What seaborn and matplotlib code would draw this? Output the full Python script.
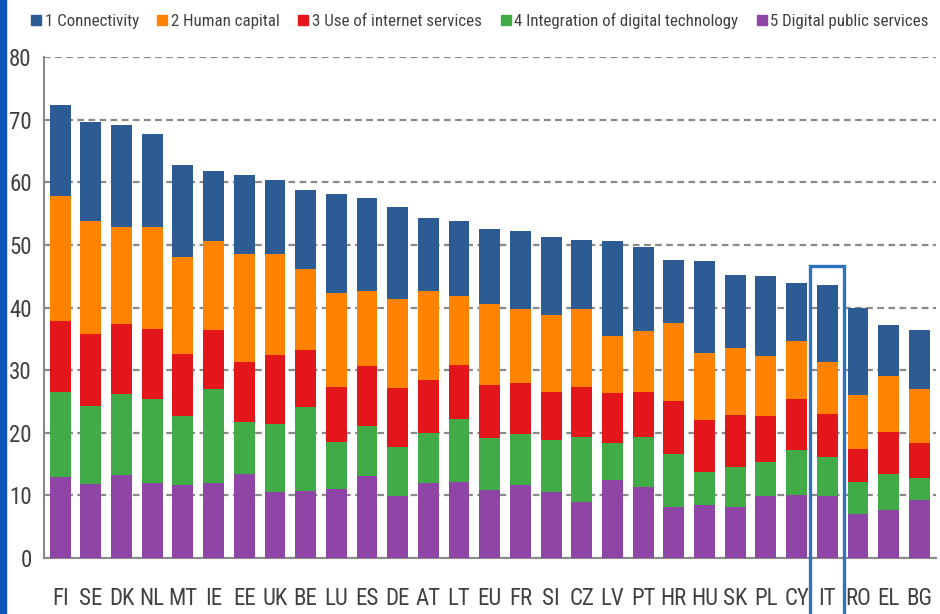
import numpy as np
import pandas as pd
import matplotlib
matplotlib.use("Agg")
import matplotlib.pyplot as plt
from matplotlib import font_manager
from matplotlib.patches import Rectangle
from matplotlib.lines import Line2D
import seaborn as sns

# DESI-style components
countries = ["FI", "SE", "DK", "NL", "MT", "IE", "EE", "UK", "BE", "LU", "ES", "DE", "AT", "LT",
             "EU", "FR", "SI", "CZ", "LV", "PT", "HR", "HU", "SK", "PL", "CY", "IT", "RO", "EL", "BG"]
connectivity = [14.4, 15.9, 16.2, 14.8, 14.6, 11.1, 12.6, 11.9, 12.6, 15.7, 14.9, 14.7, 11.7, 12.1,
                12.1, 12.4, 12.4, 11.1, 15.3, 13.4, 10.1, 14.8, 11.7, 12.7, 9.4, 12.3, 13.9, 8.2, 9.4]
human_capital = [20.1, 18.0, 15.5, 16.3, 15.5, 14.2, 17.2, 16.1, 12.9, 15.0, 12.0, 14.2, 14.1, 10.9,
                 12.8, 11.8, 12.2, 12.3, 9.0, 9.6, 12.4, 10.6, 10.7, 9.6, 9.2, 8.3, 8.6, 8.9, 8.6]
internet_use = [11.3, 11.5, 11.2, 11.2, 9.9, 9.5, 9.5, 11.0, 9.1, 8.9, 9.5, 9.4, 8.5, 8.7,
                8.5, 8.2, 7.8, 8.1, 8.0, 7.2, 8.5, 8.4, 8.2, 7.4, 8.1, 6.8, 5.4, 6.8, 5.6]
integration = [13.6, 12.5, 13.0, 13.4, 11.0, 15.0, 8.4, 10.9, 13.4, 7.5, 8.0, 7.9, 8.0, 10.1,
               8.3, 8.2, 8.2, 10.3, 5.9, 8.1, 8.4, 5.2, 6.4, 5.4, 7.2, 6.3, 5.1, 5.7, 3.5]
public_services = [12.9, 11.8, 13.2, 12.0, 11.7, 12.0, 13.4, 10.5, 10.7, 11.0, 13.1, 9.9, 12.0, 12.1,
                   10.9, 11.6, 10.6, 9.0, 12.5, 11.3, 8.2, 8.5, 8.2, 9.9, 10.1, 9.9, 7.0, 7.7, 9.3]
series_labels = ["1 Connectivity", "2 Human capital", "3 Use of internet services",
                 "4 Integration of digital technology", "5 Digital public services"]
highlight = "IT"

colors = ["#2D5B94", "#FF8200", "#E3161C", "#41AB47", "#8E45A5"]

sns.set_style("white")

# look for a narrow face (the original uses a condensed office font)
narrow = None
for f in font_manager.fontManager.ttflist:
    nm = (f.name + " " + f.fname).lower()
    if f.style != "normal" or f.weight not in (400, "normal", "regular"):
        continue
    if "mono" in nm or "serif" in nm and "sans" not in nm:
        continue
    if ("narrow" in nm or "condensed" in nm) and "semi" not in nm and "extra" not in nm:
        if "bold" in nm or "italic" in nm or "light" in nm or "medium" in nm or "thin" in nm or "black" in nm:
            continue
        narrow = f
        if "liberation" in nm or "roboto" in nm:
            break

if narrow is not None:
    fp = font_manager.FontProperties(fname=narrow.fname)
    tick_size, leg_size = 16.5, 12.2
else:
    fp = font_manager.FontProperties(family="DejaVu Sans")
    tick_size, leg_size = 12.5, 10
plt.rcParams["font.family"] = [fp.get_name(), "DejaVu Sans"]
txt_col = "#404040"

df = pd.DataFrame({"country": countries, "c1": connectivity, "c2": human_capital,
                   "c3": internet_use, "c4": integration, "c5": public_services})
# cumulative levels, bottom (5) to top (1)
stack = df[["c5", "c4", "c3", "c2", "c1"]].cumsum(axis=1)

fig = plt.figure(figsize=(9.4, 6.14), dpi=100)
ax = fig.add_axes([0.047, 0.091, 0.949, 0.816])

# draw tallest level first, then the lower ones on top of it
for col, color in zip(["c1", "c2", "c3", "c4", "c5"], colors):
    sns.barplot(x=df["country"], y=stack[col], order=countries, color=color,
                saturation=1, width=0.68, linewidth=0, ax=ax, zorder=3)

ax.set_ylim(0, 80)
ax.set_xlim(-0.52, len(countries) - 0.45)
ax.set_yticks(range(0, 81, 10))
ax.set_xlabel("")
ax.set_ylabel("")
ax.yaxis.grid(True, color="#8a8a8a", linestyle=(0, (3, 2)), linewidth=1.6, zorder=0)
ax.xaxis.grid(False)
ax.set_axisbelow(True)
for s in ["top", "right"]:
    ax.spines[s].set_visible(False)
for s in ["left", "bottom"]:
    ax.spines[s].set_color("#8a8a8a")
    ax.spines[s].set_linewidth(1.5)
ax.tick_params(axis="both", length=0, labelcolor=txt_col)
ax.tick_params(axis="y", pad=9)
ax.tick_params(axis="x", pad=21)
for lab in ax.get_xticklabels() + ax.get_yticklabels():
    lab.set_fontproperties(fp)
    lab.set_fontsize(tick_size)

# box around the highlighted country
i = countries.index(highlight)
ax.add_patch(Rectangle((i - 0.57, -10), 1.1, 56.6, fill=False, edgecolor="#2E72C0",
                       linewidth=2.4, clip_on=False, zorder=5))

handles = [Line2D([], [], marker="s", linestyle="", markersize=7, color=c) for c in colors]
leg_fp = fp.copy()
leg_fp.set_size(leg_size)
fig.legend(handles, series_labels, loc="center", bbox_to_anchor=(0.51, 0.966), ncol=5,
           frameon=False, prop=leg_fp, handletextpad=0.15, columnspacing=1.05,
           handlelength=0.7, labelcolor=txt_col)

# blue slide edge on the left
fig.patches.append(Rectangle((0, 0), 6 / 940, 1, transform=fig.transFigure,
                             color="#0B55B8", zorder=10))

fig.savefig("out.png", dpi=100)
